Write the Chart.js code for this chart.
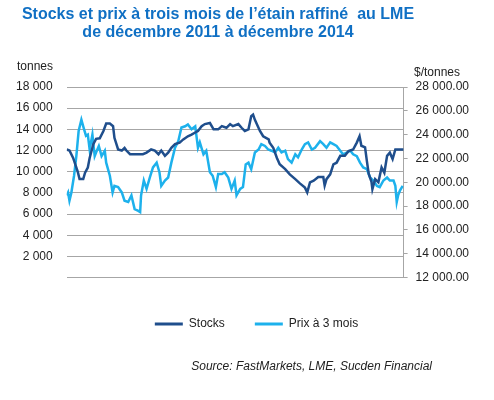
<!DOCTYPE html>
<html>
<head>
<meta charset="utf-8">
<script src="https://cdn.jsdelivr.net/npm/chart.js@4.4.1/dist/chart.umd.min.js"></script>
<style>
  html, body { margin: 0; padding: 0; background: #fff; }
  #wrap { width: 494px; height: 400px; }
</style>
</head>
<body>
<div id="wrap"><canvas id="tinChart" width="494" height="400"></canvas></div>
<script>
// months counted from Dec 2011 (0) to Dec 2014 (36)
const tickMonths = [0, 6, 12, 18, 24, 30, 36];
const tickLabels = ["Dec 11", "Jun 12", "Dec 12", "Jun 13", "Dec 13", "Jun 14", "Dec 14"];

// Stocks (tonnes, left axis)
const stockMonths = [0, 0.3, 0.7, 1.2, 1.4, 1.8, 2.0, 2.3, 2.5, 2.9, 3.2, 3.6, 4.0, 4.3, 4.7, 5.05, 5.2, 5.6, 6.0, 6.3, 6.5, 6.9, 7.6, 8.3, 8.7, 9.2, 9.6, 10.0, 10.3, 10.7, 11.05, 11.4, 11.8, 12.3, 12.7, 13.2, 13.6, 14.0, 14.3, 14.7, 15.05, 15.6, 16.0, 16.5, 16.9, 17.4, 17.8, 18.1, 18.7, 19.05, 19.4, 19.8, 20.1, 20.3, 20.5, 21.05, 21.4, 22.0, 22.1, 22.5, 22.9, 23.2, 23.8, 24.3, 24.9, 25.4, 25.95, 26.2, 26.5, 26.9, 27.4, 27.95, 28.1, 28.3, 28.7, 29.05, 29.4, 29.8, 30.3, 30.7, 31.2, 31.6, 31.9, 32.1, 32.5, 32.7, 32.9, 33.2, 33.3, 33.6, 33.95, 34.3, 34.6, 34.9, 35.2, 35.5, 35.8, 36.7];
const stockValues = [12100, 12000, 11300, 10000, 9300, 9300, 9900, 10400, 11300, 12600, 13100, 13150, 13850, 14550, 14550, 14300, 13200, 12100, 12000, 12250, 12000, 11650, 11650, 11650, 11800, 12100, 12000, 11650, 12000, 11500, 11800, 12250, 12600, 12750, 13050, 13350, 13500, 13700, 13850, 14300, 14500, 14600, 14000, 14000, 14300, 14150, 14500, 14300, 14500, 14150, 13850, 14000, 15250, 15400, 14900, 13850, 13350, 13050, 12750, 12250, 11300, 10700, 10250, 9750, 9300, 8900, 8500, 8050, 9000, 9150, 9500, 9500, 8700, 9300, 9750, 10700, 10850, 11500, 11500, 11950, 12100, 12750, 13350, 12450, 12300, 11000, 9800, 9050, 8350, 9300, 9000, 10400, 9900, 11500, 11800, 11200, 12100, 12100];

// Prix à 3 mois ($/tonne, right axis)
const priceMonths = [0, 0.15, 0.3, 0.5, 0.8, 1.05, 1.3, 1.6, 1.8, 2.1, 2.3, 2.5, 2.8, 3.05, 3.2, 3.5, 3.8, 4.15, 4.3, 4.7, 5.0, 5.2, 5.6, 6.0, 6.3, 6.7, 7.05, 7.4, 7.8, 8.0, 8.1, 8.4, 8.7, 9.05, 9.4, 9.8, 10.1, 10.3, 10.7, 11.05, 11.4, 11.8, 12.15, 12.5, 12.9, 13.2, 13.6, 14.0, 14.3, 14.5, 14.9, 15.2, 15.6, 15.9, 16.25, 16.5, 16.9, 17.2, 17.6, 17.95, 18.3, 18.5, 18.9, 19.2, 19.5, 19.8, 20.1, 20.5, 20.9, 21.2, 21.6, 21.95, 22.3, 22.7, 23.05, 23.4, 23.8, 24.1, 24.5, 24.9, 25.2, 25.6, 25.95, 26.3, 26.7, 27.05, 27.6, 27.95, 28.3, 28.7, 29.05, 29.4, 29.8, 30.1, 30.5, 30.9, 31.2, 31.6, 31.95, 32.3, 32.7, 33.05, 33.4, 33.8, 34.1, 34.5, 34.9, 35.2, 35.6, 35.8, 35.95, 36.1, 36.3, 36.6];
const priceValues = [18900, 19150, 18450, 19100, 20550, 22200, 24300, 25250, 24700, 23900, 24000, 22750, 24000, 22200, 22500, 23050, 22200, 22650, 21650, 20550, 19150, 19700, 19600, 19150, 18450, 18350, 18900, 17750, 17600, 17500, 18900, 20150, 19450, 20400, 21250, 21650, 20850, 19700, 20150, 20400, 21650, 22900, 23450, 24600, 24700, 24850, 24450, 24700, 22900, 23350, 22350, 22650, 20850, 20550, 19600, 20700, 20700, 20850, 20400, 19450, 20150, 18900, 19450, 19600, 21500, 21650, 21100, 22500, 22750, 23200, 23050, 22750, 22650, 22500, 22900, 22500, 22650, 21950, 21650, 22350, 22100, 22750, 23200, 23350, 22750, 22900, 23450, 23200, 22900, 23350, 23200, 23050, 22650, 22350, 22500, 22650, 22350, 22200, 21650, 21250, 21100, 20400, 20150, 19700, 19600, 20150, 20400, 20150, 20150, 19700, 18350, 18900, 19300, 19700];

const stockColor = "#1f4e8c";
const priceColor = "#1db1ec";
const fontFamily = "'Liberation Sans', Arial, sans-serif";

function spaced(v) {
  return String(Math.round(v)).replace(/\B(?=(\d{3})+(?!\d))/g, " ");
}

// extra texts: title, unit labels, source
const extraText = {
  id: "extraText",
  afterLayout(chart) {
    // legend sits a little right of centre in the original
    chart.legend.left += 17;
    chart.legend.right += 17;
  },
  afterDraw(chart) {
    const c = chart.ctx;
    c.save();
    c.textBaseline = "middle";
    c.textAlign = "center";
    c.fillStyle = "#1070c4";
    c.font = "bold 16px " + fontFamily;
    c.fillText("Stocks et prix à trois mois de l’étain raffiné  au LME", 218, 15);
    c.fillText("de décembre 2011 à décembre 2014", 218, 33);

    c.fillStyle = "#222";
    c.font = "12px " + fontFamily;
    c.textAlign = "left";
    c.fillText("tonnes", 17, 67);
    c.fillText("$/tonnes", 414, 73);

    c.font = "italic 12px " + fontFamily;
    c.textAlign = "right";
    c.fillText("Source: FastMarkets, LME, Sucden Financial", 432, 367);
    c.restore();
  }
};

new Chart(document.getElementById("tinChart"), {
  type: "line",
  data: {
    datasets: [
      {
        label: "Stocks",
        data: stockMonths.map((m, i) => ({ x: m, y: stockValues[i] })),
        borderColor: stockColor,
        backgroundColor: stockColor,
        borderWidth: 2.5,
        pointRadius: 0,
        yAxisID: "y"
      },
      {
        label: "Prix à 3 mois",
        data: priceMonths.map((m, i) => ({ x: m, y: priceValues[i] })),
        borderColor: priceColor,
        backgroundColor: priceColor,
        borderWidth: 2.5,
        pointRadius: 0,
        yAxisID: "y1"
      }
    ]
  },
  options: {
    responsive: false,
    animation: false,
    layout: { padding: { top: 87, left: 2, right: 17, bottom: 60 } },
    plugins: {
      title: { display: false },
      tooltip: { enabled: false },
      legend: {
        position: "bottom",
        labels: {
          color: "#222",
          font: { family: fontFamily, size: 12 },
          boxWidth: 28,
          boxHeight: 3,
          padding: 30,
          generateLabels(chart) {
            return Chart.defaults.plugins.legend.labels.generateLabels(chart)
              .map(item => Object.assign(item, { lineWidth: 0 }));
          }
        }
      }
    },
    scales: {
      x: {
        type: "linear",
        min: 0,
        max: 36.7,
        afterBuildTicks(scale) {
          scale.ticks = tickMonths.map(v => ({ value: v }));
        },
        // pull the legend closer to the month labels
        afterFit(scale) {
          scale.height -= 30;
        },
        grid: { display: false, drawTicks: false },
        border: { display: false },
        ticks: {
          color: "#222",
          padding: 13,
          maxRotation: 0,
          font: { family: fontFamily, size: 12 },
          callback: (v) => tickLabels[tickMonths.indexOf(v)]
        }
      },
      y: {
        position: "left",
        min: 0,
        max: 18000,
        grid: { color: "#a6a6a6", lineWidth: 1, drawTicks: false },
        border: { display: false },
        ticks: {
          stepSize: 2000,
          padding: 14,
          color: "#222",
          font: { family: fontFamily, size: 12 },
          callback: (v) => (v === 0 ? "" : spaced(v))
        }
      },
      y1: {
        position: "right",
        min: 12000,
        max: 28000,
        grid: { drawOnChartArea: false, color: "#a6a6a6", tickLength: 4 },
        border: { display: true, color: "#a6a6a6" },
        ticks: {
          stepSize: 2000,
          padding: 8,
          color: "#222",
          font: { family: fontFamily, size: 12 },
          callback: (v) => spaced(v) + ".00"
        }
      }
    }
  },
  plugins: [extraText]
});
</script>
</body>
</html>
